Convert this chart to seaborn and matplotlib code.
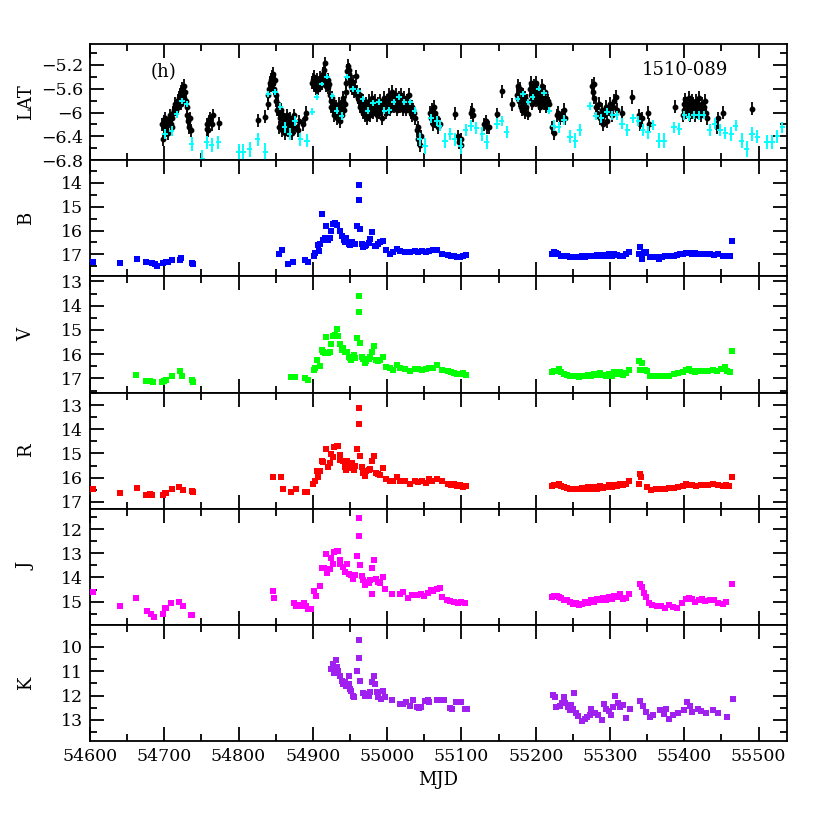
import numpy as np
import pandas as pd
import matplotlib
matplotlib.use("Agg")
import matplotlib.pyplot as plt
import seaborn as sns
from matplotlib.ticker import MultipleLocator, FuncFormatter

# ---------------- data ----------------
# Fermi-LAT daily fluxes (log10), black points
lat_d_mjd = [54697, 54698, 54699, 54700, 54701, 54702, 54703, 54705, 54707, 54708, 54709, 54710, 54711,
             54712, 54713, 54714, 54715, 54716, 54717, 54718, 54719, 54720, 54721, 54722, 54723, 54724,
             54725, 54726, 54727, 54728, 54729, 54730, 54731, 54732, 54733, 54734, 54736,
             54757, 54758, 54759, 54760, 54762, 54764, 54766, 54774,
             54826, 54836, 54839, 54840, 54841, 54842, 54843, 54844, 54845, 54846, 54847, 54848, 54849,
             54850, 54851, 54852, 54853, 54854, 54855, 54856, 54857, 54858, 54859, 54860, 54861, 54862,
             54863, 54864, 54865, 54866, 54867, 54868, 54869, 54870, 54871, 54872, 54873, 54875, 54876,
             54880, 54882, 54887, 54889, 54891,
             54899, 54900, 54901, 54902, 54903, 54904, 54905, 54906, 54907, 54908, 54909, 54910, 54911,
             54912, 54913, 54914, 54915, 54916, 54917, 54918, 54919, 54920, 54921, 54922, 54923, 54924,
             54925, 54926, 54927, 54928, 54929, 54930, 54931, 54932, 54933, 54934, 54935, 54936, 54937,
             54938, 54939, 54940, 54941, 54942, 54943, 54944, 54945, 54946, 54947, 54948, 54949, 54950,
             54951, 54952, 54953, 54954, 54955, 54956, 54957, 54958, 54959, 54960, 54961, 54962, 54963,
             54964, 54965, 54966, 54967, 54968, 54969, 54970, 54971, 54972, 54973, 54974, 54975, 54976,
             54977, 54978, 54979, 54980, 54981, 54982, 54983, 54984, 54985, 54986, 54987, 54988, 54989,
             54990, 54991, 54992, 54993, 54994, 54995, 54996, 54997, 54998, 54999, 55000, 55001, 55002,
             55003, 55004, 55005, 55006, 55007, 55008, 55009, 55010, 55011, 55012, 55013, 55014, 55015,
             55016, 55017, 55018, 55019, 55020, 55021, 55022, 55023, 55024, 55025, 55026, 55027, 55028,
             55029, 55030, 55031, 55032, 55033, 55034, 55035, 55036, 55038, 55040, 55041, 55042, 55044,
             55046,
             55058, 55059, 55060, 55061, 55062, 55063, 55064, 55065, 55067, 55069, 55071, 55091, 55095,
             55097, 55099, 55100, 55113, 55114, 55115, 55131, 55133, 55135, 55137, 55148, 55154, 55168,
             55175, 55176, 55177, 55178, 55179, 55180, 55181, 55182, 55183, 55184, 55185, 55186, 55187,
             55188, 55190, 55192, 55193, 55194, 55195, 55196, 55197, 55198, 55199, 55200, 55201, 55202,
             55203, 55204, 55205, 55206, 55207, 55208, 55209, 55210, 55211, 55212, 55213, 55214, 55216,
             55218, 55222, 55224, 55228, 55230, 55232, 55235, 55238, 55240,
             55276, 55277, 55278, 55279, 55281, 55283, 55285, 55287, 55289, 55290, 55292, 55294, 55296,
             55298, 55300, 55302, 55304, 55306, 55308, 55310, 55316, 55329, 55339, 55341, 55343, 55351,
             55353, 55387, 55398, 55399, 55400, 55401, 55402, 55404, 55405, 55406, 55407, 55408, 55410,
             55411, 55412, 55413, 55414, 55416, 55417, 55418, 55419, 55420, 55422, 55423, 55424, 55426,
             55428, 55429, 55431, 55444, 55446, 55452, 55491]
lat_d_val = [-6.20, -6.45, -6.15, -6.25, -6.10, -6.30, -6.20, -6.35, -6.15, -6.05, -6.20, -6.10, -6.25,
             -6.00, -5.95, -5.90, -5.85, -5.95, -5.88, -5.80, -5.90, -5.75, -5.70, -5.65, -5.85, -5.60,
             -5.70, -5.75, -5.55, -5.65, -5.80, -6.05, -5.90, -6.15, -6.25, -6.10, -6.30,
             -6.28, -6.20, -6.30, -6.15, -6.10, -6.20, -6.05, -6.18,
             -6.13, -6.07, -5.85, -5.70, -5.60, -5.50, -5.45, -5.55, -5.40, -5.35, -5.50, -5.60, -5.45,
             -5.70, -5.80, -5.95, -5.85, -6.00, -6.25, -6.10, -5.95, -6.30, -6.20, -6.05, -6.25, -6.15,
             -6.35, -6.20, -6.05, -6.30, -6.15, -6.25, -6.10, -6.30, -6.20, -6.35, -6.15, -6.05, -6.25,
             -6.30, -6.15, -6.20, -6.10, -6.00,
             -5.50, -5.45, -5.55, -5.40, -5.50, -5.60, -5.55, -5.45, -5.60, -5.50, -5.42, -5.55, -5.48,
             -5.52, -5.40, -5.35, -5.28, -5.17, -5.45, -5.55, -5.50, -5.45, -5.58, -5.52, -5.70, -5.80,
             -5.90, -5.75, -5.95, -6.05, -5.85, -6.00, -5.90, -6.10, -5.95, -6.05, -5.85, -6.00, -6.15,
             -5.90, -6.05, -5.80, -5.75, -5.95, -5.85, -5.65, -5.50, -5.30, -5.22, -5.28, -5.35, -5.45,
             -5.50, -5.55, -5.60, -5.48, -5.65, -5.58, -5.62, -5.39, -5.70, -5.65, -5.75, -5.80, -5.70,
             -5.90, -5.85, -5.95, -5.80, -6.00, -5.90, -6.05, -5.85, -5.95, -6.10, -5.90, -5.80, -5.95,
             -6.05, -5.85, -5.75, -5.90, -6.00, -5.85, -5.95, -5.80, -5.90, -6.05, -5.95, -5.85, -6.00,
             -5.90, -5.80, -5.95, -6.10, -5.85, -5.90, -5.75, -5.95, -5.85, -6.00, -5.80, -5.90, -5.70,
             -5.85, -5.95, -5.75, -5.85, -5.65, -5.80, -5.90, -5.75, -5.85, -5.70, -5.95, -5.80, -5.85,
             -5.75, -5.90, -5.80, -5.70, -5.85, -5.95, -5.80, -5.75, -5.90, -5.85, -5.95, -5.80, -5.90,
             -5.70, -5.85, -5.95, -6.00, -5.90, -6.05, -5.95, -6.00, -6.10, -6.30, -6.45, -6.25, -6.55,
             -6.40,
             -6.00, -6.10, -5.95, -6.05, -6.20, -5.90, -6.00, -6.15, -6.10, -6.25, -6.20, -6.02, -6.40,
             -6.50, -6.45, -6.55, -6.00, -5.95, -6.05, -6.20, -6.15, -6.25, -6.25, -6.03, -5.64, -5.86,
             -5.70, -5.55, -5.65, -5.80, -5.60, -5.90, -5.75, -5.95, -5.70, -5.85, -6.00, -5.75, -5.90,
             -5.80, -6.02, -5.60, -5.50, -5.70, -5.85, -5.60, -5.75, -5.55, -5.65, -5.80, -5.50, -5.70,
             -5.60, -5.85, -5.75, -5.90, -5.65, -5.80, -5.55, -5.70, -5.85, -5.65, -5.75, -5.90, -5.80,
             -5.85, -6.25, -6.35, -6.05, -6.00, -6.10, -6.05, -5.95, -6.10,
             -5.55, -5.65, -5.52, -5.75, -5.90, -6.00, -5.85, -6.10, -5.95, -6.20, -6.05, -5.90, -6.15,
             -5.95, -5.85, -6.05, -5.90, -5.80, -5.74, -5.95, -6.00, -5.74, -6.05, -6.20, -6.10, -6.00,
             -6.20, -5.90, -6.05, -5.85, -5.95, -5.78, -6.00, -5.85, -5.95, -5.75, -6.05, -5.90, -5.80,
             -6.00, -5.85, -5.95, -6.05, -5.80, -5.90, -6.00, -5.85, -5.75, -5.95, -6.05, -5.85, -5.90,
             -5.80, -6.00, -6.10, -6.25, -6.10, -6.00, -5.94]
lat_d_err = 0.11

# Fermi-LAT weekly fluxes (log10), cyan crosses
lat_w_mjd = [54701, 54710, 54717, 54724, 54730, 54737, 54751, 54757, 54764, 54773, 54800, 54806, 54815,
             54826, 54836, 54840, 54849, 54856, 54862, 54869, 54876, 54883, 54892, 54899, 54905, 54912,
             54919, 54926, 54932, 54939, 54946, 54954, 54961, 54967, 54974, 54981, 54989, 54996, 55003,
             55009, 55016, 55023, 55031, 55037, 55044, 55051, 55059, 55067, 55071, 55078, 55085, 55091,
             55099, 55106, 55113, 55120, 55128, 55134, 55148, 55154, 55161, 55176, 55183, 55190, 55196,
             55204, 55211, 55218, 55224, 55231, 55238, 55246, 55253, 55259, 55273, 55281, 55288, 55296,
             55303, 55309, 55316, 55323, 55331, 55338, 55344, 55351, 55358, 55366, 55373, 55386, 55393,
             55400, 55406, 55413, 55420, 55426, 55434, 55441, 55448, 55455, 55463, 55469, 55477, 55484,
             55491, 55498, 55511, 55518, 55525, 55532]
lat_w_val = [-6.36, -6.31, -6.03, -5.80, -5.86, -6.53, -6.78, -6.50, -6.55, -6.50, -6.67, -6.67, -6.62,
             -6.45, -6.67, -5.69, -5.65, -5.90, -6.25, -6.36, -6.14, -6.45, -6.47, -5.99, -5.74, -5.52,
             -5.40, -5.72, -5.97, -6.06, -5.40, -5.60, -5.64, -5.77, -5.97, -5.84, -5.83, -5.97, -5.96,
             -5.82, -5.74, -5.82, -5.82, -5.97, -6.45, -6.56, -6.10, -6.14, -6.22, -6.47, -6.36, -6.45,
             -6.56, -6.29, -6.22, -6.26, -6.36, -6.50, -6.19, -6.14, -6.33, -5.77, -5.69, -5.82, -5.74,
             -5.60, -5.67, -5.97, -6.22, -6.25, -6.13, -6.41, -6.47, -6.29, -5.89, -6.06, -6.10, -5.99,
             -6.05, -6.05, -6.19, -6.29, -6.10, -6.14, -6.30, -6.33, -6.21, -6.47, -6.47, -6.25, -6.28,
             -6.05, -6.08, -6.04, -6.05, -6.04, -6.30, -6.19, -6.29, -6.35, -6.36, -6.22, -6.47, -6.61,
             -6.36, -6.41, -6.50, -6.50, -6.40, -6.25]
lat_w_err = [0.09, 0.08, 0.06, 0.05, 0.05, 0.12, 0.15, 0.11, 0.12, 0.11, 0.14, 0.14, 0.13,
             0.11, 0.15, 0.05, 0.05, 0.06, 0.09, 0.10, 0.08, 0.11, 0.11, 0.06, 0.05, 0.04,
             0.04, 0.05, 0.06, 0.07, 0.04, 0.05, 0.05, 0.05, 0.06, 0.05, 0.05, 0.06, 0.06,
             0.05, 0.05, 0.05, 0.05, 0.06, 0.11, 0.13, 0.08, 0.08, 0.09, 0.12, 0.10, 0.11,
             0.13, 0.10, 0.09, 0.10, 0.11, 0.12, 0.09, 0.08, 0.10, 0.05, 0.05, 0.05, 0.05,
             0.04, 0.05, 0.06, 0.09, 0.09, 0.08, 0.11, 0.12, 0.10, 0.06, 0.07, 0.08, 0.06,
             0.07, 0.07, 0.09, 0.10, 0.08, 0.08, 0.10, 0.11, 0.09, 0.12, 0.12, 0.09, 0.10,
             0.07, 0.07, 0.07, 0.07, 0.07, 0.10, 0.09, 0.10, 0.10, 0.11, 0.09, 0.12, 0.14,
             0.11, 0.11, 0.12, 0.12, 0.11, 0.09]
lat_w_halfwidth = 3.5

# Optical / NIR photometry (magnitudes)
b_mjd = [54604, 54640, 54663, 54676, 54684, 54687, 54690, 54698, 54702, 54705, 54710, 54721, 54723, 54737, 54739,
         54855, 54859, 54867, 54873, 54890, 54893, 54901, 54903, 54907, 54908, 54910, 54912, 54914, 54916,
         54918, 54921, 54923, 54925, 54927, 54930, 54933, 54936, 54939, 54942, 54943, 54945, 54948, 54950,
         54953, 54957, 54959, 54962, 54962, 54964, 54966, 54968, 54970, 54972, 54975, 54977, 54980, 54983,
         54985, 54988, 54991, 54995, 54998, 55004, 55008, 55013, 55017, 55024, 55031, 55037, 55042, 55047,
         55052, 55057, 55062, 55067, 55074, 55082, 55086, 55090, 55094, 55098, 55102, 55106,
         55222, 55224, 55227, 55230, 55234, 55238, 55242, 55246, 55250, 55254, 55258, 55262, 55266, 55270,
         55274, 55278, 55282, 55286, 55290, 55294, 55298, 55302, 55306, 55310, 55314, 55318, 55322, 55326,
         55339, 55340, 55343, 55346, 55349, 55354, 55358, 55362, 55366, 55370, 55374, 55378, 55382, 55386,
         55390, 55394, 55398, 55402, 55406, 55410, 55414, 55418, 55422, 55426, 55430, 55434, 55440, 55446,
         55452, 55458, 55461, 55464]
b_mag = [17.32, 17.36, 17.18, 17.30, 17.38, 17.42, 17.50, 17.37, 17.33, 17.30, 17.23, 17.23, 17.17, 17.35, 17.40,
         16.98, 16.83, 17.39, 17.34, 17.23, 17.30, 17.05, 16.95, 16.60, 16.85, 16.58, 15.32, 16.40, 16.30,
         15.80, 16.38, 16.30, 16.04, 15.73, 15.70, 15.76, 16.04, 16.25, 16.38, 16.50, 16.30, 16.58, 16.62,
         16.50, 16.58, 15.83, 14.10, 14.70, 15.93, 16.58, 16.70, 16.63, 16.60, 16.52, 16.36, 16.08, 16.63,
         16.66, 16.58, 16.50, 16.43, 16.80, 16.99, 16.90, 16.76, 16.85, 16.88, 16.92, 16.85, 16.88, 16.86,
         16.90, 16.84, 16.82, 16.80, 17.00, 17.02, 17.05, 17.08, 17.10, 17.12, 17.05, 17.02,
         16.98, 16.92, 16.95, 17.00, 17.05, 17.05, 17.08, 17.10, 17.12, 17.10, 17.12, 17.08, 17.10, 17.05,
         17.08, 17.05, 17.03, 17.08, 17.02, 17.05, 17.00, 17.05, 16.98, 17.02, 17.08, 17.05, 16.98, 16.90,
         16.98, 16.68, 17.20, 16.95, 16.90, 17.10, 17.13, 17.12, 17.18, 17.10, 17.08, 17.06, 17.05, 17.05,
         17.02, 17.00, 16.98, 16.95, 16.93, 16.98, 16.95, 17.00, 16.98, 17.00, 16.98, 17.00, 17.03, 16.98,
         17.05, 17.08, 17.05, 16.43]

v_mjd = [54662, 54676, 54681, 54685, 54697, 54700, 54703, 54710, 54721, 54724, 54737, 54739,
         54871, 54876, 54890, 54893, 54901, 54903, 54906, 54909, 54912, 54914, 54916, 54918, 54921, 54923,
         54925, 54927, 54930, 54932, 54934, 54936, 54939, 54941, 54943, 54946, 54948, 54950, 54952, 54955,
         54957, 54960, 54962, 54962, 54964, 54966, 54968, 54970, 54972, 54975, 54977, 54979, 54982, 54985,
         54988, 54991, 54995, 54998, 55004, 55008, 55013, 55017, 55024, 55031, 55037, 55042, 55047, 55052,
         55057, 55062, 55067, 55074, 55082, 55086, 55090, 55094, 55098, 55102, 55106,
         55222, 55225, 55228, 55231, 55234, 55238, 55242, 55246, 55250, 55254, 55258, 55262, 55266, 55270,
         55274, 55278, 55282, 55286, 55290, 55294, 55298, 55302, 55306, 55310, 55314, 55318, 55322, 55326,
         55339, 55340, 55343, 55347, 55350, 55354, 55358, 55362, 55368, 55374, 55380, 55386, 55392, 55398,
         55402, 55406, 55410, 55414, 55418, 55422, 55426, 55432, 55438, 55444, 55450, 55455, 55458, 55462,
         55464]
v_mag = [16.86, 17.10, 17.10, 17.16, 17.16, 17.10, 17.06, 16.90, 16.68, 16.88, 17.06, 17.13,
         16.96, 16.95, 17.00, 17.06, 16.64, 16.58, 16.23, 16.48, 15.82, 15.89, 15.95, 15.31, 15.97, 15.90,
         15.56, 15.26, 15.22, 14.96, 15.26, 15.56, 15.82, 15.76, 15.92, 15.90, 16.10, 16.16, 16.23, 16.02,
         16.16, 15.34, 13.62, 14.24, 15.53, 16.10, 16.20, 16.37, 16.28, 16.20, 16.10, 15.90, 15.65, 16.23,
         16.30, 16.23, 16.10, 16.54, 16.58, 16.64, 16.44, 16.58, 16.62, 16.68, 16.62, 16.60, 16.65, 16.62,
         16.58, 16.55, 16.43, 16.64, 16.70, 16.75, 16.78, 16.80, 16.82, 16.78, 16.85,
         16.72, 16.70, 16.68, 16.62, 16.75, 16.80, 16.85, 16.88, 16.92, 16.90, 16.95, 16.90, 16.88, 16.85,
         16.90, 16.82, 16.85, 16.78, 16.85, 16.92, 16.80, 16.88, 16.75, 16.82, 16.72, 16.85, 16.78, 16.65,
         16.30, 16.64, 16.38, 16.64, 16.70, 16.88, 16.90, 16.90, 16.88, 16.90, 16.88, 16.80, 16.78, 16.72,
         16.65, 16.62, 16.70, 16.75, 16.68, 16.70, 16.68, 16.70, 16.65, 16.68, 16.62, 16.52, 16.70, 16.72,
         15.86]

r_mjd = [54604, 54640, 54663, 54676, 54681, 54684, 54698, 54701, 54703, 54710, 54720, 54725, 54737, 54739,
         54846, 54857, 54860, 54871, 54877, 54889, 54892, 54900, 54903, 54906, 54907, 54910, 54912, 54914,
         54918, 54921, 54923, 54925, 54927, 54929, 54932, 54934, 54936, 54937, 54940, 54943, 54945, 54946,
         54949, 54951, 54953, 54955, 54957, 54960, 54962, 54962, 54964, 54966, 54968, 54970, 54972, 54975,
         54977, 54979, 54982, 54985, 54988, 54991, 54995, 54998, 55004, 55008, 55013, 55017, 55024, 55031,
         55037, 55042, 55047, 55052, 55056, 55060, 55067, 55074, 55082, 55086, 55090, 55094, 55098, 55102,
         55106,
         55222, 55225, 55228, 55231, 55234, 55238, 55242, 55246, 55250, 55254, 55258, 55262, 55266, 55270,
         55274, 55278, 55282, 55286, 55290, 55294, 55298, 55302, 55306, 55310, 55314, 55318, 55322, 55326,
         55339, 55340, 55342, 55350, 55355, 55362, 55368, 55374, 55380, 55386, 55392, 55398, 55402, 55406,
         55410, 55416, 55422, 55426, 55432, 55438, 55446, 55452, 55456, 55460, 55464]
r_mag = [16.48, 16.65, 16.42, 16.70, 16.68, 16.70, 16.73, 16.65, 16.65, 16.47, 16.40, 16.51, 16.55, 16.60,
         15.98, 15.98, 16.47, 16.58, 16.47, 16.61, 16.58, 16.27, 16.12, 15.74, 15.99, 15.74, 15.33, 15.37,
         14.80, 15.54, 15.40, 15.01, 15.16, 14.73, 14.70, 14.70, 15.05, 15.26, 15.33, 15.57, 15.68, 15.30,
         15.47, 15.60, 15.40, 15.68, 15.51, 14.83, 13.10, 13.77, 15.10, 15.57, 15.82, 15.93, 15.74, 15.70,
         15.65, 15.33, 15.12, 15.79, 15.85, 15.89, 15.60, 16.07, 16.12, 16.15, 15.99, 16.12, 16.15, 16.25,
         16.12, 16.18, 16.15, 16.22, 16.04, 16.12, 16.04, 16.12, 16.25, 16.30, 16.28, 16.35, 16.32, 16.38,
         16.35,
         16.35, 16.32, 16.30, 16.28, 16.35, 16.40, 16.42, 16.45, 16.48, 16.45, 16.48, 16.42, 16.45, 16.40,
         16.45, 16.38, 16.45, 16.35, 16.42, 16.38, 16.32, 16.40, 16.30, 16.35, 16.25, 16.32, 16.28, 16.15,
         16.26, 15.85, 15.99, 16.37, 16.50, 16.48, 16.45, 16.45, 16.43, 16.42, 16.40, 16.35, 16.28, 16.30,
         16.32, 16.35, 16.30, 16.32, 16.30, 16.28, 16.32, 16.35, 16.30, 16.33, 15.96]

j_mjd = [54604, 54640, 54662, 54677, 54682, 54686, 54698, 54701, 54703, 54709, 54720, 54725, 54736, 54738,
         54846, 54848, 54875, 54877, 54880, 54885, 54888, 54891, 54894, 54897, 54902, 54904, 54909, 54912,
         54915, 54918, 54919, 54923, 54925, 54927, 54929, 54932, 54934, 54936, 54937, 54940, 54943, 54946,
         54949, 54952, 54954, 54957, 54960, 54962, 54962, 54964, 54966, 54968, 54970, 54972, 54975, 54977,
         54979, 54980, 54982, 54985, 54988, 54991, 54994, 54997, 55007, 55017, 55022, 55028, 55033, 55040,
         55045, 55050, 55055, 55059, 55062, 55067, 55071, 55074, 55080, 55085, 55090, 55095, 55100, 55105,
         55222, 55225, 55228, 55231, 55234, 55238, 55242, 55246, 55250, 55254, 55258, 55262, 55266, 55270,
         55274, 55278, 55282, 55286, 55290, 55294, 55298, 55302, 55306, 55310, 55314, 55318, 55322, 55326,
         55340, 55343, 55346, 55349, 55353, 55357, 55363, 55368, 55374, 55379, 55385, 55390, 55397, 55402,
         55406, 55410, 55414, 55420, 55424, 55428, 55435, 55440, 55446, 55452, 55456, 55464]
j_mag = [14.61, 15.20, 14.86, 15.39, 15.52, 15.65, 15.52, 15.27, 15.25, 15.05, 15.00, 15.20, 15.57, 15.55,
         14.55, 14.86, 15.07, 15.20, 15.16, 15.20, 15.07, 15.18, 15.32, 15.32, 14.55, 14.75, 14.36, 13.61,
         13.61, 13.02, 13.81, 13.64, 13.20, 13.43, 12.96, 12.92, 12.89, 13.27, 13.43, 13.57, 13.77, 13.43,
         13.84, 13.91, 14.05, 13.91, 13.12, 11.55, 12.27, 13.50, 13.94, 14.12, 14.32, 14.18, 14.22, 14.12,
         14.67, 13.60, 13.30, 14.05, 14.18, 14.22, 13.98, 14.46, 14.67, 14.67, 14.60, 14.83, 14.73, 14.73,
         14.70, 14.75, 14.65, 14.52, 14.55, 14.49, 14.45, 14.79, 14.95, 14.98, 15.00, 15.05, 15.02, 15.07,
         14.82, 14.78, 14.75, 14.80, 14.85, 14.92, 14.95, 15.00, 15.10, 15.05, 15.12, 15.08, 15.00, 15.05,
         14.95, 15.02, 14.90, 14.95, 14.85, 14.92, 14.82, 14.88, 14.75, 14.82, 14.70, 14.90, 14.85, 14.70,
         14.27, 14.41, 14.66, 14.79, 15.07, 15.14, 15.20, 15.18, 15.25, 15.15, 15.22, 15.27, 15.05, 14.90,
         14.85, 14.88, 15.00, 14.95, 14.88, 14.98, 14.92, 14.95, 15.05, 15.10, 15.00, 14.27]

k_mjd = [54925, 54927, 54929, 54931, 54933, 54934, 54936, 54939, 54941, 54943, 54945, 54948, 54949, 54950,
         54952, 54954, 54956, 54960, 54962, 54962, 54964, 54968, 54970, 54972, 54975, 54977, 54980, 54982,
         54984, 54986, 54988, 54992, 54995, 54997, 55007, 55017, 55022, 55026, 55031, 55035, 55040, 55043,
         55046, 55051, 55055, 55057, 55067, 55071, 55076, 55084, 55087, 55093, 55100, 55105, 55107,
         55223, 55226, 55227, 55232, 55236, 55238, 55240, 55243, 55244, 55246, 55248, 55250, 55251, 55254,
         55257, 55262, 55266, 55269, 55273, 55275, 55280, 55284, 55289, 55292, 55294, 55298, 55301, 55304,
         55307, 55311, 55314, 55318, 55322, 55327, 55340, 55345, 55349, 55354, 55358, 55367, 55372, 55376,
         55380, 55385, 55392, 55399, 55403, 55407, 55411, 55419, 55423, 55429, 55438, 55446, 55457, 55465]
k_mag = [10.93, 10.71, 11.09, 10.53, 10.84, 10.98, 11.19, 11.39, 11.53, 11.46, 11.59, 11.19, 11.53, 11.73,
         11.80, 12.00, 12.07, 10.98, 9.73, 10.45, 11.39, 11.91, 12.00, 11.94, 12.00, 11.87, 11.46, 11.19,
         11.53, 11.87, 12.07, 12.14, 11.80, 12.07, 12.20, 12.34, 12.34, 12.27, 12.41, 12.20, 12.48, 12.50,
         12.45, 12.22, 12.20, 12.28, 12.20, 12.18, 12.20, 12.50, 12.57, 12.27, 12.25, 12.54, 12.57,
         11.98, 12.07, 12.48, 12.43, 12.30, 12.07, 12.32, 12.48, 12.40, 12.59, 12.39, 12.55, 11.91, 12.73,
         12.84, 13.04, 12.94, 12.87, 12.78, 12.57, 12.73, 12.80, 13.00, 12.36, 12.54, 12.64, 12.80, 12.48,
         12.02, 12.32, 12.46, 12.39, 12.90, 12.57, 12.22, 12.43, 12.66, 12.87, 12.80, 12.61, 12.75, 12.54,
         12.94, 12.80, 12.73, 12.61, 12.25, 12.43, 12.66, 12.54, 12.64, 12.70, 12.59, 12.73, 12.87, 12.14]

bands = ["B", "V", "R", "J", "K"]
band_colors = {"B": "#0000ff", "V": "#00ff00", "R": "#ff0000", "J": "#ff00ff", "K": "#a020f0"}
band_ylims = {"B": (17.92, 13.05), "V": (17.58, 12.79), "R": (17.28, 12.48),
              "J": (15.96, 11.16), "K": (13.86, 9.11)}
xlim = (54600, 55538)

# ---------------- figure ----------------
sns.set_style("ticks")
plt.rcParams['font.family'] = ['DejaVu Serif', 'DejaVu Sans']
plt.rcParams['axes.unicode_minus'] = True
plt.rcParams['axes.linewidth'] = 1.3
plt.rcParams['text.color'] = 'black'
plt.rcParams['axes.labelcolor'] = 'black'
plt.rcParams['xtick.color'] = 'black'
plt.rcParams['ytick.color'] = 'black'
plt.rcParams['axes.edgecolor'] = 'black'

frames = []
for name, xs, ys in [("B", b_mjd, b_mag), ("V", v_mjd, v_mag), ("R", r_mjd, r_mag),
                     ("J", j_mjd, j_mag), ("K", k_mjd, k_mag)]:
    frames.append(pd.DataFrame({"band": name, "MJD": xs, "mag": ys}))
phot = pd.concat(frames, ignore_index=True)

fig = plt.figure(figsize=(8.3, 8.3), dpi=100)
gs = fig.add_gridspec(6, 1, left=0.1084, right=0.948, top=0.947, bottom=0.1072, hspace=0)
axes = [fig.add_subplot(gs[0])]
for i in range(1, 6):
    axes.append(fig.add_subplot(gs[i], sharex=axes[0]))

fmt = FuncFormatter(lambda v, p: f"{v:g}".replace("-", "\u2212"))

def style(ax, major, minor):
    ax.set_xlim(*xlim)
    ax.xaxis.set_major_locator(MultipleLocator(100))
    ax.xaxis.set_minor_locator(MultipleLocator(50))
    ax.yaxis.set_major_locator(MultipleLocator(major))
    ax.yaxis.set_minor_locator(MultipleLocator(minor))
    ax.yaxis.set_major_formatter(fmt)
    ax.tick_params(which="both", direction="in", top=True, right=True, width=1.3,
                   labelsize=12.5, colors="black")
    ax.tick_params(which="major", length=10, pad=5)
    ax.tick_params(which="minor", length=5)
    for s in ax.spines.values():
        s.set_visible(True)
        s.set_color("black")

# LAT panel
ax = axes[0]
ax.errorbar(lat_d_mjd, lat_d_val, yerr=lat_d_err, fmt="o", ms=3.2, color="black",
            elinewidth=1.3, capsize=0, zorder=2)
ax.errorbar(lat_w_mjd, lat_w_val, xerr=lat_w_halfwidth, yerr=lat_w_err, fmt="none",
            ecolor="#00ffff", elinewidth=1.4, capsize=0, zorder=3)
ax.set_ylim(-6.8, -4.85)
style(ax, 0.4, 0.2)
ax.set_ylabel("LAT", fontsize=13)
ax.text(0.106, 0.76, "(h)", transform=ax.transAxes, ha="center", va="center", fontsize=13)
ax.text(0.854, 0.776, "1510-089", transform=ax.transAxes, ha="center", va="center", fontsize=13)

for ax, b in zip(axes[1:], bands):
    sns.scatterplot(data=phot[phot.band == b], x="MJD", y="mag", color=band_colors[b],
                    marker="s", s=16, linewidth=0, ax=ax, zorder=3)
    ax.set_ylim(*band_ylims[b])
    style(ax, 1, 0.5)
    ax.set_ylabel(b, fontsize=13)

for ax in axes[:-1]:
    ax.tick_params(labelbottom=False)
    ax.set_xlabel("")
axes[-1].set_xlabel("MJD", fontsize=13, labelpad=4)
axes[-1].xaxis.set_major_formatter(FuncFormatter(lambda v, p: f"{v:.0f}"))
fig.align_ylabels(axes)

fig.savefig("out.png", dpi=100)
